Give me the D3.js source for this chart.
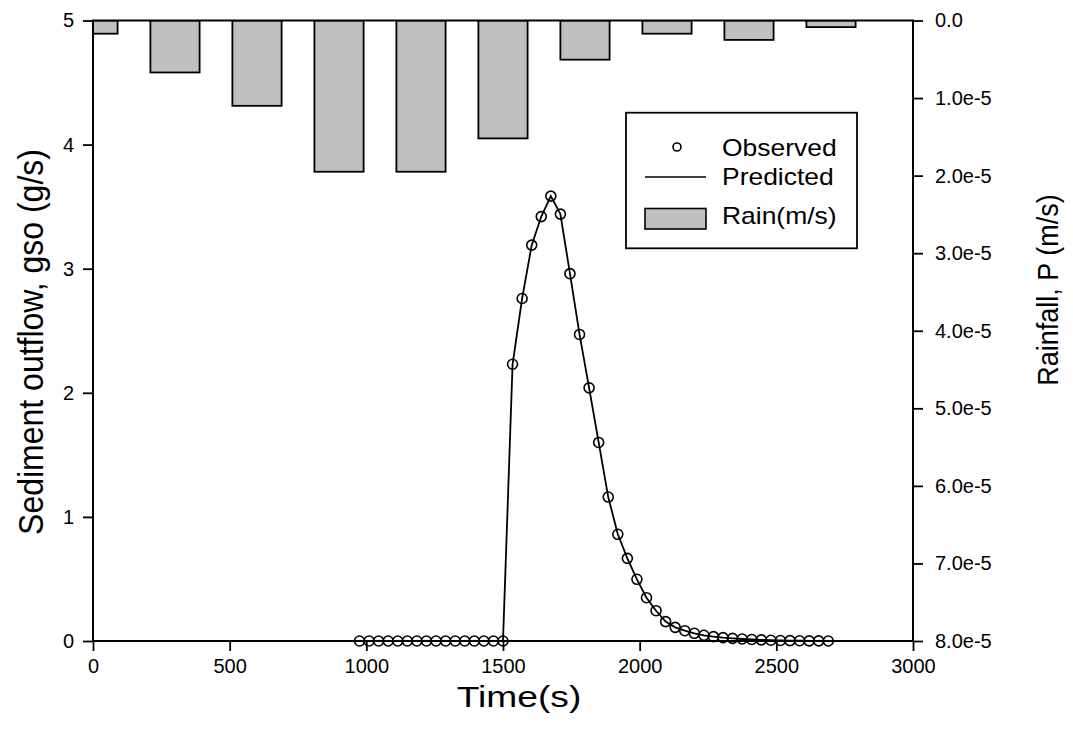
<!DOCTYPE html>
<html>
<head>
<meta charset="utf-8">
<script src="https://cdn.jsdelivr.net/npm/d3@7"></script>
<style>
  html, body { margin: 0; padding: 0; background: #fff; }
  svg { display: block; font-family: "Liberation Sans", Arial, sans-serif; }
</style>
</head>
<body>
<svg id="chart" width="1073" height="743"></svg>
<script>
// ---- data ----
const rainTimes = [0, 300, 600, 900, 1200, 1500, 1800, 2100, 2400, 2700];
const rainValues = [1.7e-6, 6.7e-6, 1.10e-5, 1.95e-5, 1.95e-5, 1.52e-5, 5.05e-6, 1.7e-6, 2.5e-6, 8.5e-7];
const rainWidth = 180; // seconds per bar

const obsTimes = [975, 1010, 1045, 1080, 1115, 1150, 1185, 1220, 1255, 1290, 1325, 1360, 1395, 1430, 1465, 1500,
  1535, 1570, 1605, 1640, 1675, 1710, 1745, 1780, 1815, 1850, 1885, 1920, 1955, 1990, 2025, 2060, 2095, 2130,
  2165, 2200, 2235, 2270, 2305, 2340, 2375, 2410, 2445, 2480, 2515, 2550, 2585, 2620, 2655, 2690];
const obsValues = [0, 0, 0, 0, 0, 0, 0, 0, 0, 0, 0, 0, 0, 0, 0, 0,
  2.23, 2.76, 3.19, 3.42, 3.585, 3.44, 2.96, 2.47, 2.04, 1.60, 1.16, 0.86, 0.666, 0.497, 0.349, 0.244, 0.156, 0.110,
  0.083, 0.062, 0.046, 0.035, 0.027, 0.021, 0.016, 0.012, 0.009, 0.006, 0.004, 0.003, 0.002, 0.001, 0.001, 0];

const predTimes = [0, 1500, 1535, 1570, 1605, 1640, 1675, 1710, 1745, 1780, 1815, 1850, 1885, 1920, 1955, 1990,
  2025, 2060, 2095, 2130, 2165, 2200, 2235, 2270, 2305, 2340, 2375, 2410, 2445, 2480, 2515, 2550, 2585, 2620, 2655, 2690, 3000];
const predValues = [0, 0, 2.23, 2.76, 3.19, 3.42, 3.585, 3.44, 2.96, 2.47, 2.04, 1.60, 1.16, 0.86, 0.666, 0.497,
  0.349, 0.244, 0.156, 0.110, 0.083, 0.062, 0.046, 0.035, 0.027, 0.021, 0.016, 0.012, 0.009, 0.006, 0.004, 0.003, 0.002, 0.001, 0.001, 0, 0];

const xTicks = [0, 500, 1000, 1500, 2000, 2500, 3000];
const yTicks = [0, 1, 2, 3, 4, 5];
const rainTicks = [0, 1e-5, 2e-5, 3e-5, 4e-5, 5e-5, 6e-5, 7e-5, 8e-5];
const legendLabels = ["Observed", "Predicted", "Rain(m/s)"];
const xTitle = "Time(s)";
const yTitle = "Sediment outflow, gso (g/s)";
const y2Title = "Rainfall, P (m/s)";

// ---- layout ----
const L = 93, R = 913, T = 20.5, B = 641;
const svg = d3.select("#chart");

const x = d3.scaleLinear().domain([0, 3000]).range([L, R]);
const y = d3.scaleLinear().domain([0, 5]).range([B, T]);
const yR = d3.scaleLinear().domain([0, 8e-5]).range([T, B]);

svg.append("defs").append("clipPath").attr("id", "plotclip")
  .append("rect").attr("x", L).attr("y", T).attr("width", R - L).attr("height", B - T);

const plot = svg.append("g").attr("clip-path", "url(#plotclip)");

// rain bars (hanging from top)
plot.selectAll("rect.bar").data(rainTimes.map((t, i) => ({ t, v: rainValues[i] })))
  .enter().append("rect").attr("class", "bar")
  .attr("x", d => x(d.t - rainWidth / 2))
  .attr("width", d => x(d.t + rainWidth / 2) - x(d.t - rainWidth / 2))
  .attr("y", yR(0))
  .attr("height", d => yR(d.v) - yR(0))
  .attr("fill", "#c0c0c0").attr("stroke", "#000").attr("stroke-width", 1.8);

// predicted line
const line = d3.line().x(d => x(d[0])).y(d => y(d[1]));
plot.append("path").datum(predTimes.map((t, i) => [t, predValues[i]]))
  .attr("d", line).attr("fill", "none").attr("stroke", "#000").attr("stroke-width", 1.8);

// observed points
svg.append("g").selectAll("circle").data(obsTimes.map((t, i) => [t, obsValues[i]]))
  .enter().append("circle")
  .attr("cx", d => x(d[0])).attr("cy", d => y(d[1])).attr("r", 5)
  .attr("fill", "none").attr("stroke", "#000").attr("stroke-width", 1.6);

// frame
svg.append("rect").attr("x", L).attr("y", T).attr("width", R - L).attr("height", B - T)
  .attr("fill", "none").attr("stroke", "#000").attr("stroke-width", 2);

// axes
const tickFont = 20;
const fmtR = d => d === 0 ? "0.0" : (d / 1e-5).toFixed(1) + "e-5";
const ax = svg.append("g").attr("transform", `translate(0,${B})`)
  .call(d3.axisBottom(x).tickValues(xTicks).tickSize(10).tickPadding(8).tickFormat(d3.format("d")));
const ay = svg.append("g").attr("transform", `translate(${L},0)`)
  .call(d3.axisLeft(y).tickValues(yTicks).tickSize(10).tickPadding(9).tickFormat(d3.format("d")));
const ay2 = svg.append("g").attr("transform", `translate(${R},0)`)
  .call(d3.axisRight(yR).tickValues(rainTicks).tickSize(10).tickPadding(12).tickFormat(fmtR));

[ax, ay, ay2].forEach(g => {
  g.select(".domain").remove();
  g.selectAll(".tick line").attr("stroke", "#000").attr("stroke-width", 1.8);
  g.selectAll(".tick text").attr("fill", "#000")
    .style("font-family", '"Liberation Sans", Arial, sans-serif').style("font-size", tickFont + "px");
});

// titles
svg.append("text").attr("transform", `translate(519,707) scale(1.24,1)`)
  .attr("text-anchor", "middle").style("font-size", "30px").text(xTitle);
svg.append("text").attr("transform", `translate(43,342) rotate(-90) scale(1,1.1)`)
  .attr("text-anchor", "middle").style("font-size", "32px").text(yTitle);
svg.append("text").attr("transform", `translate(1058,290) rotate(-90) scale(1,1.1)`)
  .attr("text-anchor", "middle").style("font-size", "27px").text(y2Title);

// legend
const lg = svg.append("g");
lg.append("rect").attr("x", 626).attr("y", 112.7).attr("width", 231).attr("height", 135.6)
  .attr("fill", "#fff").attr("stroke", "#000").attr("stroke-width", 1.8);
lg.append("circle").attr("cx", 677).attr("cy", 147).attr("r", 4)
  .attr("fill", "none").attr("stroke", "#000").attr("stroke-width", 1.6);
lg.append("line").attr("x1", 645).attr("x2", 706).attr("y1", 177).attr("y2", 177)
  .attr("stroke", "#000").attr("stroke-width", 1.6);
lg.append("rect").attr("x", 645).attr("y", 208.5).attr("width", 61).attr("height", 20.5)
  .attr("fill", "#c0c0c0").attr("stroke", "#000").attr("stroke-width", 1.6);
const lgY = [156, 185, 224];
lg.selectAll("text.lt").data(legendLabels).enter().append("text").attr("class", "lt")
  .attr("transform", (d, i) => `translate(722,${lgY[i]}) scale(1.15,1)`)
  .style("font-size", "23px").text(d => d);
</script>
</body>
</html>
